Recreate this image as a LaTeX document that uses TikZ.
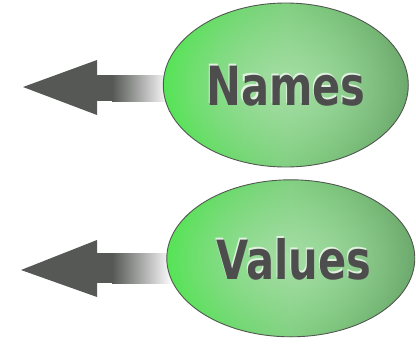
\documentclass[tikz,border=0pt]{standalone}
\usepackage{fontspec}
\usepackage{graphicx}
\newfontfamily\lblfont{DejaVu Sans}
\usetikzlibrary{shapes.geometric,fadings,calc,backgrounds}

\definecolor{arrowgray}{RGB}{85,88,85}
\definecolor{txtgray}{RGB}{77,77,77}
\definecolor{rimgray}{RGB}{80,88,80}
\definecolor{gleft}{RGB}{72,230,72}
\definecolor{gmid}{RGB}{122,205,122}
\definecolor{gright}{RGB}{100,160,100}
\definecolor{glowc}{RGB}{165,222,165}
\definecolor{embc}{RGB}{225,242,225}

\tikzfading[name=glowfade, inner color=transparent!0, outer color=transparent!100]

\newcommand\embtext[1]{\scalebox{0.77}[1]{\makebox[0pt][l]{\hspace{-1.4pt}\raisebox{1.4pt}{\textcolor{embc}{#1}}}#1}}

\tikzset{
  bubble/.style={ellipse, draw=rimgray, line width=0.9pt, inner sep=0pt,
    left color=gleft, right color=gright, middle color=gmid,
    text=txtgray, font=\lblfont\bfseries\fontsize{54}{60}\selectfont,
    path picture={\fill[glowc, path fading=glowfade]
      ([xshift=-20pt,yshift=-20pt]path picture bounding box.south west) rectangle ([xshift=20pt,yshift=20pt]path picture bounding box.north east);}},
  headfill/.style={fill=arrowgray},
  shaftshade/.style={left color=arrowgray, right color=white},
}

\begin{document}
\begin{tikzpicture}[x=1pt,y=-1pt]
\useasboundingbox (0,0) rectangle (416,346);

\node[bubble, minimum width=245pt, minimum height=164pt] (names) at (285.8,85)
  {\raisebox{-3pt}{\embtext{Names}}};
\node[bubble, minimum width=248pt, minimum height=157pt] (values) at (290.8,258.3)
  {\hspace{6pt}\raisebox{-4.5pt}{\embtext{Values}}};

\coordinate (tipA) at (23,87);
\coordinate (tipB) at (21,270);

\begin{scope}[on background layer]
  % top arrow
  \fill[headfill] (95,75) rectangle (112,101);
  \shade[shaftshade] (112,75) rectangle ($(names.west)+(6,16)$);
  \fill[headfill] (tipA) -- (97,60) -- (97,115) -- cycle;
  % bottom arrow
  \fill[headfill] (95,253) rectangle (112,283);
  \shade[shaftshade] (112,253) rectangle ($(values.west)+(6,25)$);
  \fill[headfill] (tipB) -- (97,240) -- (97,297) -- cycle;
\end{scope}
\end{tikzpicture}
\end{document}
